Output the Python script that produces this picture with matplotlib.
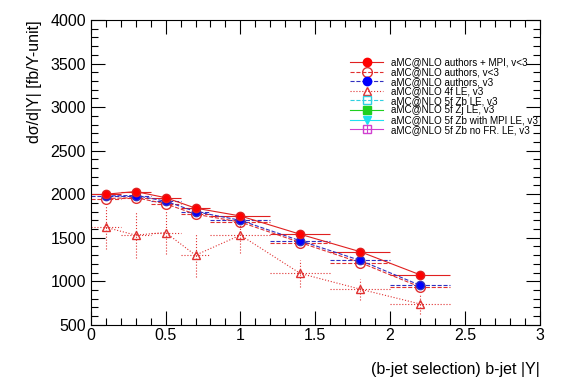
import numpy as np
import matplotlib
matplotlib.use('Agg')
import matplotlib.pyplot as plt
from matplotlib.lines import Line2D
from matplotlib.ticker import MultipleLocator

plt.rcParams['font.family'] = ['Liberation Sans', 'DejaVu Sans']

# bin centres and half widths in |Y|
y_centres = [0.1, 0.3, 0.5, 0.7, 1.0, 1.4, 1.8, 2.2]
y_halfw = [0.1, 0.1, 0.1, 0.1, 0.2, 0.2, 0.2, 0.2]

mpi_v3 = [2000, 2030, 1960, 1840, 1750, 1540, 1340, 1075]
mpi_err = [10, 10, 10, 10, 10, 10, 10, 10]
auth_lt3 = [1950, 1960, 1890, 1770, 1680, 1445, 1215, 935]
auth_lt3_err = [10, 10, 10, 10, 10, 10, 10, 10]
auth_v3 = [1980, 1985, 1920, 1800, 1700, 1465, 1240, 955]
auth_v3_err = [10, 10, 10, 10, 10, 10, 10, 10]
le4f = [1620, 1530, 1560, 1300, 1530, 1090, 910, 740]
le4f_err = [250, 260, 250, 250, 210, 160, 120, 110]

labels = ['aMC@NLO authors + MPI, v<3',
          'aMC@NLO authors, v<3',
          'aMC@NLO authors, v3',
          'aMC@NLO 4f LE, v3',
          'aMC@NLO 5f Zb LE, v3',
          'aMC@NLO 5f Zj LE, v3',
          'aMC@NLO 5f Zb with MPI LE, v3',
          'aMC@NLO 5f Zb no FR. LE, v3']

fig = plt.figure(figsize=(5.67, 3.84), dpi=100)
ax = fig.add_axes([0.160, 0.154, 0.792, 0.794])


def draw(vals, err, color, ls, marker, mfc, ms):
    eb = ax.errorbar(y_centres, vals, xerr=y_halfw, yerr=err, color=color, ls=ls,
                     lw=0.8, marker=marker, mfc=mfc, mec=color, ms=ms, capsize=0,
                     elinewidth=0.8, mew=1.0)
    for c in eb[2]:
        c.set_linestyle(ls)
    return eb


draw(le4f, le4f_err, '#e03030', ':', '^', 'none', 6)
draw(auth_lt3, auth_lt3_err, '#e03030', '--', 'o', 'none', 7)
draw(auth_v3, auth_v3_err, '#3030c0', '--', 'o', 'blue', 6)
draw(mpi_v3, mpi_err, '#e02020', '-', 'o', 'red', 6)

ax.set_xlim(0, 3)
ax.set_ylim(500, 4000)
ax.xaxis.set_major_locator(MultipleLocator(0.5))
ax.xaxis.set_minor_locator(MultipleLocator(0.1))
ax.yaxis.set_major_locator(MultipleLocator(500))
ax.yaxis.set_minor_locator(MultipleLocator(100))
ax.tick_params(which='both', direction='in', top=True, right=True, labelsize=11.5, width=0.8)
ax.tick_params(which='major', length=10)
ax.tick_params(which='minor', length=5)
ax.tick_params(axis='x', pad=2)
ax.set_xticks([0, 0.5, 1, 1.5, 2, 2.5, 3])
ax.set_xticklabels(['0', '0.5', '1', '1.5', '2', '2.5', '3'])
for s in ax.spines.values():
    s.set_linewidth(0.8)

ax.set_xlabel('(b-jet selection) b-jet |Y|', fontsize=11.5, loc='right', labelpad=14)
ax.set_ylabel('d\u03c3/d|Y| [fb/Y-unit]', fontsize=11.5, loc='top', labelpad=6)

handles = [
    Line2D([], [], color='#e02020', ls='-', lw=0.8, marker='o', mfc='red', mec='red', ms=6),
    Line2D([], [], color='#e03030', ls='--', lw=0.8, marker='o', mfc='none', mec='#e03030', ms=7),
    Line2D([], [], color='#3030c0', ls='--', lw=0.8, marker='o', mfc='blue', mec='blue', ms=6),
    Line2D([], [], color='#e03030', ls=':', lw=0.8, marker='^', mfc='none', mec='#e03030', ms=6),
    Line2D([], [], color='#30d0e0', ls='--', lw=0.8, marker='s', mfc='none', mec='#30d0e0', ms=6),
    Line2D([], [], color='#20d020', ls='-', lw=0.8, marker='s', mfc='#20d020', mec='#20d020', ms=6),
    Line2D([], [], color='#20e0f0', ls='-', lw=0.8, marker='v', mfc='#20e0f0', mec='#20e0f0', ms=6),
    (Line2D([], [], color='#d040d0', ls='-', lw=0.8, marker='s', mfc='none', mec='#d040d0', ms=6),
     Line2D([], [], ls='none', marker='+', mec='#d040d0', ms=6, mew=0.8)),
]
ax.legend(handles, labels, loc='upper right', bbox_to_anchor=(1.005, 0.89), frameon=False,
          fontsize=7.1, labelspacing=-0.04, handlelength=3.4, handletextpad=0.8,
          borderaxespad=0)

fig.savefig('out.png', dpi=100)
